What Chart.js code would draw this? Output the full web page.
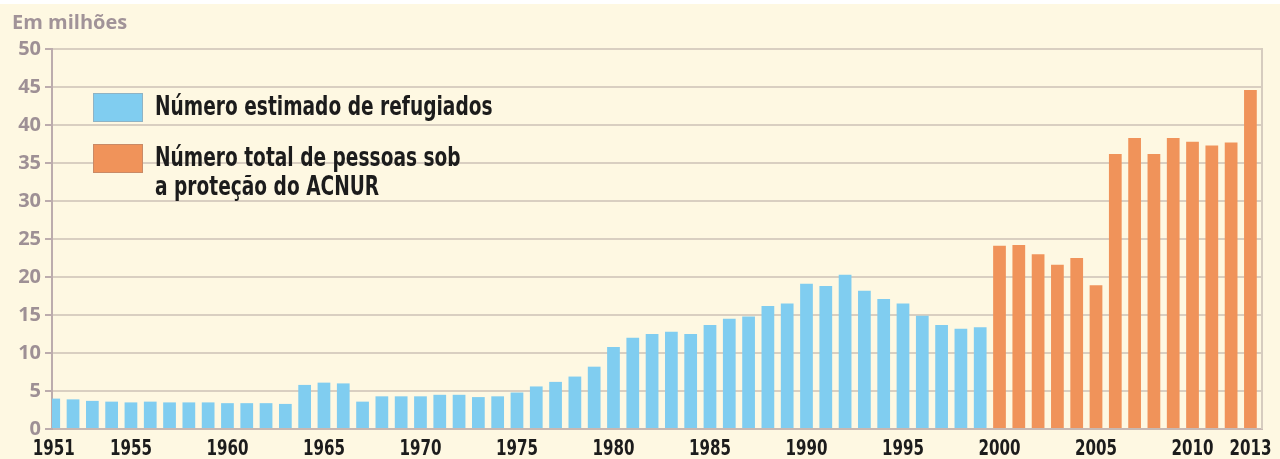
<!DOCTYPE html>
<html>
<head>
<meta charset="utf-8">
<script src="https://cdn.jsdelivr.net/npm/chart.js@4/dist/chart.umd.min.js"></script>
<style>
    html, body { margin: 0; padding: 0; background: #ffffff; }
    #wrap { width: 1280px; height: 459px; }
</style>
</head>
<body>
<div id="wrap"><canvas id="refugiadosChart" width="1280" height="459"></canvas></div>
<script>
// anos e valores (em milhões)
var anosRefugiados = [1951, 1952, 1953, 1954, 1955, 1956, 1957, 1958, 1959, 1960,
    1961, 1962, 1963, 1964, 1965, 1966, 1967, 1968, 1969, 1970,
    1971, 1972, 1973, 1974, 1975, 1976, 1977, 1978, 1979, 1980,
    1981, 1982, 1983, 1984, 1985, 1986, 1987, 1988, 1989, 1990,
    1991, 1992, 1993, 1994, 1995, 1996, 1997, 1998, 1999];
var refugiados = [4.0, 3.9, 3.7, 3.6, 3.5, 3.6, 3.5, 3.5, 3.5, 3.4,
    3.4, 3.4, 3.3, 5.8, 6.1, 6.0, 3.6, 4.3, 4.3, 4.3,
    4.5, 4.5, 4.2, 4.3, 4.8, 5.6, 6.2, 6.9, 8.2, 10.8,
    12.0, 12.5, 12.8, 12.5, 13.7, 14.5, 14.8, 16.2, 16.5, 19.1,
    18.8, 20.3, 18.2, 17.1, 16.5, 14.9, 13.7, 13.2, 13.4];

var anosTotal = [2000, 2001, 2002, 2003, 2004, 2005, 2006, 2007, 2008, 2009, 2010, 2011, 2012, 2013];
var totalPessoas = [24.1, 24.2, 23.0, 21.6, 22.5, 18.9, 36.2, 38.3, 36.2, 38.3, 37.8, 37.3, 37.7, 44.6];

var anosMarcados = [1951, 1955, 1960, 1965, 1970, 1975, 1980, 1985, 1990, 1995, 2000, 2005, 2010, 2013];

var legendas = [
    { cor: '#80cdf0', borda: '#8fb3c4', linhas: ['Número estimado de refugiados'] },
    { cor: '#f0935a', borda: '#c98a66', linhas: ['Número total de pessoas sob', 'a proteção do ACNUR'] }
];

var fonteEstreita = '"DejaVu Sans Condensed", "Liberation Sans Narrow", sans-serif';

function pontos(anos, valores) {
    return anos.map(function (ano, i) { return { x: ano, y: valores[i] }; });
}

// texto estreitado na horizontal (a fonte original é condensada)
function textoEstreito(ctx, texto, x, y, fator) {
    ctx.save();
    ctx.translate(x, y);
    ctx.scale(fator, 1);
    ctx.fillText(texto, 0, 0);
    ctx.restore();
}

// fundo creme, título, rótulos do eixo x e legenda desenhados à mão
var extras = {
    id: 'extras',
    beforeDraw: function (chart) {
        var ctx = chart.ctx;
        ctx.save();
        ctx.fillStyle = '#fef8e2';
        ctx.fillRect(0, 4, chart.width, chart.height - 4);
        ctx.restore();
    },
    afterDraw: function (chart) {
        var ctx = chart.ctx;
        var area = chart.chartArea;
        ctx.save();
        // borda direita
        ctx.strokeStyle = '#d6ccbf';
        ctx.lineWidth = 2;
        ctx.beginPath();
        ctx.moveTo(area.right, area.top - 1);
        ctx.lineTo(area.right, area.bottom);
        ctx.stroke();

        // título
        ctx.fillStyle = '#a19398';
        ctx.font = 'bold 20px "Open Sans", sans-serif';
        ctx.textBaseline = 'alphabetic';
        ctx.fillText('Em milhões', 12, 29);

        // anos no eixo x
        var xScale = chart.scales.x;
        ctx.fillStyle = '#1c1c1c';
        ctx.font = 'bold 21px ' + fonteEstreita;
        ctx.textBaseline = 'alphabetic';
        xScale.ticks.forEach(function (t) {
            var txt = String(t.value);
            var w = ctx.measureText(txt).width * 0.8;
            var x = xScale.getPixelForValue(t.value) - w / 2;
            if (x < 28) x = 28;
            textoEstreito(ctx, txt, x, 455, 0.8);
        });

        // legenda
        var tops = [93, 144];
        legendas.forEach(function (item, i) {
            var y = tops[i];
            ctx.fillStyle = item.cor;
            ctx.fillRect(93, y, 50, 29);
            ctx.strokeStyle = item.borda;
            ctx.lineWidth = 1;
            ctx.strokeRect(93.5, y + 0.5, 49, 28);
            ctx.fillStyle = '#1c1c1c';
            ctx.font = 'bold 26px ' + fonteEstreita;
            ctx.textBaseline = 'middle';
            item.linhas.forEach(function (linha, j) {
                textoEstreito(ctx, linha, 155, y + 15 + j * 29, 0.795);
            });
        });
        ctx.restore();
    }
};

var ctx = document.getElementById('refugiadosChart').getContext('2d');
var grafico = new Chart(ctx, {
    type: 'bar',
    data: {
        datasets: [{
            label: 'Número estimado de refugiados',
            data: pontos(anosRefugiados, refugiados),
            backgroundColor: '#80cdf0'
        }, {
            label: 'Número total de pessoas sob a proteção do ACNUR',
            data: pontos(anosTotal, totalPessoas),
            backgroundColor: '#f0935a'
        }]
    },
    options: {
        responsive: false,
        animation: false,
        grouped: false,
        categoryPercentage: 1,
        barPercentage: 0.66,
        layout: { padding: { top: 49, right: 18, left: 0, bottom: 0 } },
        plugins: {
            legend: { display: false },
            tooltip: { enabled: false }
        },
        scales: {
            x: {
                type: 'linear',
                offset: false,
                min: 1950.91,
                max: 2013.6,
                afterBuildTicks: function (scale) {
                    scale.ticks = anosMarcados.map(function (v) { return { value: v }; });
                },
                afterFit: function (scale) { scale.height = 30; },
                grid: { display: false, drawTicks: false },
                border: { display: true, color: '#c7b8b2', width: 2 },
                ticks: { display: false }
            },
            y: {
                min: 0,
                max: 50,
                afterFit: function (scale) { scale.width = 52; },
                grid: { color: '#d9cfc1', lineWidth: 2, tickLength: 7, tickColor: '#bcacad' },
                border: { display: true, color: '#bcacad', width: 2 },
                ticks: {
                    stepSize: 5,
                    padding: 4,
                    color: '#9e9095',
                    font: { family: '"Open Sans", sans-serif', size: 20, weight: 'bold' }
                }
            }
        }
    },
    plugins: [extras]
});
</script>
</body>
</html>
